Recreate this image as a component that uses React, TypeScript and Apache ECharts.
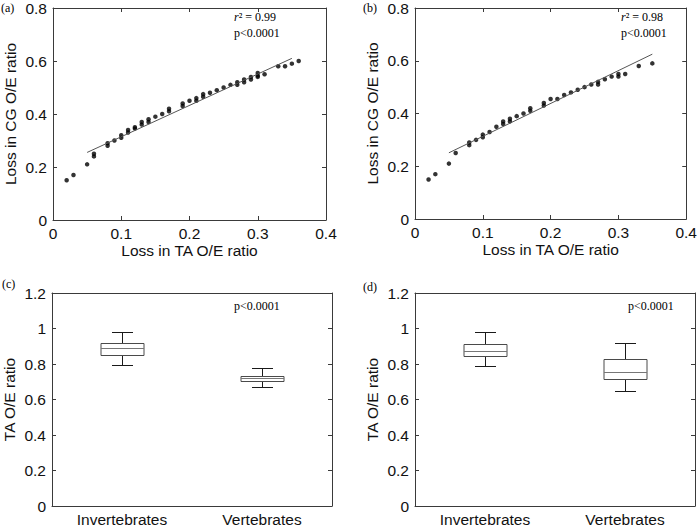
import React, { useEffect, useRef } from 'react';
import * as echarts from 'echarts';

// ---------- Data ----------
// Panel (a)
const aX = [0.02, 0.03, 0.05, 0.06, 0.06, 0.08, 0.08, 0.09, 0.10, 0.10, 0.11, 0.11, 0.12, 0.12, 0.13, 0.13, 0.14, 0.14, 0.15, 0.16, 0.17, 0.17, 0.19, 0.19, 0.20, 0.21, 0.21, 0.22, 0.22, 0.23, 0.24, 0.25, 0.26, 0.27, 0.27, 0.28, 0.28, 0.29, 0.29, 0.30, 0.30, 0.30, 0.31, 0.33, 0.34, 0.35, 0.36];
const aY = [0.15, 0.17, 0.21, 0.24, 0.25, 0.28, 0.29, 0.30, 0.31, 0.32, 0.33, 0.34, 0.345, 0.35, 0.36, 0.37, 0.37, 0.38, 0.39, 0.40, 0.41, 0.42, 0.43, 0.44, 0.45, 0.45, 0.46, 0.465, 0.475, 0.48, 0.49, 0.50, 0.51, 0.51, 0.52, 0.52, 0.53, 0.53, 0.54, 0.54, 0.545, 0.555, 0.55, 0.58, 0.58, 0.59, 0.60];
const aFitX = [0.05, 0.35];
const aFitY = [0.255, 0.61];

// Panel (b)
const bX = [0.02, 0.03, 0.05, 0.06, 0.08, 0.08, 0.09, 0.10, 0.10, 0.11, 0.12, 0.13, 0.13, 0.14, 0.14, 0.15, 0.16, 0.17, 0.17, 0.19, 0.19, 0.20, 0.21, 0.22, 0.23, 0.24, 0.25, 0.26, 0.27, 0.27, 0.28, 0.29, 0.30, 0.30, 0.31, 0.33, 0.35];
const bY = [0.15, 0.17, 0.21, 0.25, 0.28, 0.29, 0.30, 0.31, 0.32, 0.33, 0.35, 0.36, 0.37, 0.37, 0.38, 0.39, 0.40, 0.41, 0.42, 0.43, 0.44, 0.455, 0.455, 0.47, 0.48, 0.49, 0.50, 0.51, 0.51, 0.52, 0.53, 0.54, 0.54, 0.55, 0.55, 0.58, 0.59];
const bFitX = [0.05, 0.35];
const bFitY = [0.251, 0.625];

// Box plots
const categories = ['Invertebrates', 'Vertebrates'];
const cMin = [0.794, 0.668];
const cQ1 = [0.850, 0.705];
const cMed = [0.889, 0.720];
const cQ3 = [0.919, 0.735];
const cMax = [0.981, 0.778];

const dMin = [0.791, 0.649];
const dQ1 = [0.847, 0.718];
const dMed = [0.875, 0.753];
const dQ3 = [0.914, 0.830];
const dMax = [0.981, 0.921];

const scatterXTicks = { min: 0, max: 0.4, interval: 0.1 };
const scatterYTicks = { min: 0, max: 0.8, interval: 0.2 };
const boxYTicks = { min: 0, max: 1.2, interval: 0.2 };

const xName = 'Loss in TA O/E ratio';
const yNameScatter = 'Loss in CG O/E ratio';
const yNameBox = 'TA O/E ratio';

// ---------- Styles ----------
const SANS = '"Liberation Sans", Arial, sans-serif';
const SERIF = '"Liberation Serif", "Times New Roman", serif';
const AXIS_COLOR = '#3a3a3a';
const TEXT_COLOR = '#000';

const axisLine = { show: true, onZero: false, lineStyle: { color: AXIS_COLOR, width: 1 } };
const tickIn = { show: true, inside: true, length: 4, lineStyle: { color: AXIS_COLOR, width: 1 } };
const labelStyle = { color: '#111', fontSize: 15.5, fontFamily: SANS };
const nameStyle = { color: '#111', fontSize: 15.5, fontFamily: SANS };

function valueX(gridIndex: number, position: 'bottom' | 'top', ticks: any, showLabel: boolean, name?: string) {
  return {
    type: 'value', gridIndex, position, ...ticks,
    axisLine, axisTick: tickIn,
    axisLabel: { show: showLabel, margin: 5, ...labelStyle },
    splitLine: { show: false },
    name: name || '', nameLocation: 'middle', nameGap: 22, nameTextStyle: nameStyle,
  };
}
function valueY(gridIndex: number, position: 'left' | 'right', ticks: any, showLabel: boolean, name?: string) {
  return {
    type: 'value', gridIndex, position, ...ticks,
    axisLine, axisTick: tickIn,
    axisLabel: { show: showLabel, margin: 6, ...labelStyle },
    splitLine: { show: false },
    name: name || '', nameLocation: 'middle', nameGap: 35, nameTextStyle: nameStyle,
  };
}
function catX(gridIndex: number, position: 'bottom' | 'top', showLabel: boolean) {
  return {
    type: 'category', gridIndex, position, data: categories, boundaryGap: true,
    axisLine, axisTick: { show: false },
    axisLabel: { show: showLabel, margin: 5, ...labelStyle },
    splitLine: { show: false },
  };
}

const renderBox = (params: any, api: any) => {
  const idx = api.value(0);
  const vMin = api.value(1), vQ1 = api.value(2), vMed = api.value(3), vQ3 = api.value(4), vMax = api.value(5);
  const cx = Math.round(api.coord([idx, vMed])[0]) + 0.5;
  const y = (v: number) => Math.round(api.coord([idx, v])[1]) + 0.5;
  const hw = 21.5, cw = 10.5;
  const whisker = { stroke: '#1a1a1a', lineWidth: 1 };
  const boxStroke = { stroke: '#4a4a4a', lineWidth: 1, fill: 'none' };
  return {
    type: 'group',
    children: [
      { type: 'line', shape: { x1: cx, y1: y(vMax), x2: cx, y2: y(vQ3) }, style: whisker },
      { type: 'line', shape: { x1: cx, y1: y(vQ1), x2: cx, y2: y(vMin) }, style: whisker },
      { type: 'line', shape: { x1: cx - cw, y1: y(vMax), x2: cx + cw, y2: y(vMax) }, style: whisker },
      { type: 'line', shape: { x1: cx - cw, y1: y(vMin), x2: cx + cw, y2: y(vMin) }, style: whisker },
      { type: 'rect', shape: { x: cx - hw, y: y(vQ3), width: hw * 2, height: y(vQ1) - y(vQ3) }, style: boxStroke },
      { type: 'line', shape: { x1: cx - hw, y1: y(vMed), x2: cx + hw, y2: y(vMed) }, style: { stroke: '#777', lineWidth: 1 } },
    ],
  };
};

const zip = (xs: number[], ys: number[]) => xs.map((x, i) => [x, ys[i]]);
const boxData = (mn: number[], q1: number[], md: number[], q3: number[], mx: number[]) =>
  categories.map((_, i) => [i, mn[i], q1[i], md[i], q3[i], mx[i]]);

function annot(x: number, y: number, text: string, rich?: any) {
  return {
    type: 'text', x, y,
    style: {
      text, fill: TEXT_COLOR, fontSize: 12, fontFamily: SERIF,
      align: 'left', verticalAlign: 'middle', rich,
    },
  };
}

export default function App() {
  const ref = useRef<HTMLDivElement>(null);
  useEffect(() => {
    if (!ref.current) return;
    const chart = echarts.init(ref.current, null, { renderer: 'svg' });
    const rich = {
      i: { fontStyle: 'italic', fontSize: 12, fontFamily: SERIF, fill: TEXT_COLOR, color: TEXT_COLOR },
    };
    const option: any = {
      animation: false,
      backgroundColor: '#fff',
      grid: [
        { left: 53, top: 6, width: 273, height: 214 },
        { left: 415, top: 6, width: 274, height: 213 },
        { left: 52, top: 293, width: 280, height: 215 },
        { left: 415, top: 293, width: 280, height: 215 },
      ],
      xAxis: [
        valueX(0, 'bottom', scatterXTicks, true, xName),
        valueX(0, 'top', scatterXTicks, false),
        valueX(1, 'bottom', scatterXTicks, true, xName),
        valueX(1, 'top', scatterXTicks, false),
        catX(2, 'bottom', true),
        catX(2, 'top', false),
        catX(3, 'bottom', true),
        catX(3, 'top', false),
      ],
      yAxis: [
        valueY(0, 'left', scatterYTicks, true, yNameScatter),
        valueY(0, 'right', scatterYTicks, false),
        valueY(1, 'left', scatterYTicks, true, yNameScatter),
        valueY(1, 'right', scatterYTicks, false),
        valueY(2, 'left', boxYTicks, true, yNameBox),
        valueY(2, 'right', boxYTicks, false),
        valueY(3, 'left', boxYTicks, true, yNameBox),
        valueY(3, 'right', boxYTicks, false),
      ],
      series: [
        { type: 'scatter', xAxisIndex: 0, yAxisIndex: 0, data: zip(aX, aY), symbol: 'circle', symbolSize: 4.5, itemStyle: { color: '#000' } },
        { type: 'line', xAxisIndex: 0, yAxisIndex: 0, data: zip(aFitX, aFitY), symbol: 'none', lineStyle: { color: '#555', width: 1 } },
        { type: 'scatter', xAxisIndex: 2, yAxisIndex: 2, data: zip(bX, bY), symbol: 'circle', symbolSize: 4.5, itemStyle: { color: '#000' } },
        { type: 'line', xAxisIndex: 2, yAxisIndex: 2, data: zip(bFitX, bFitY), symbol: 'none', lineStyle: { color: '#555', width: 1 } },
        { type: 'custom', xAxisIndex: 4, yAxisIndex: 4, data: boxData(cMin, cQ1, cMed, cQ3, cMax), renderItem: renderBox, encode: { x: 0, y: [1, 2, 3, 4, 5] } },
        { type: 'custom', xAxisIndex: 6, yAxisIndex: 6, data: boxData(dMin, dQ1, dMed, dQ3, dMax), renderItem: renderBox, encode: { x: 0, y: [1, 2, 3, 4, 5] } },
      ],
      graphic: [
        annot(1, 8, '(a)'),
        annot(363, 8, '(b)'),
        annot(2, 284, '(c)'),
        annot(363, 287, '(d)'),
        annot(234, 17, '{i|r}\u00b2 = 0.99', rich),
        annot(234, 33, 'p<0.0001'),
        annot(621, 17, '{i|r}\u00b2 = 0.98', rich),
        annot(621, 33, 'p<0.0001'),
        annot(234, 306, 'p<0.0001'),
        annot(628, 306, 'p<0.0001'),
      ],
    };
    chart.setOption(option);
    return () => chart.dispose();
  }, []);
  return <div ref={ref} style={{ position: 'fixed', left: 0, top: 0, width: 700, height: 527, background: '#fff' }} />;
}
